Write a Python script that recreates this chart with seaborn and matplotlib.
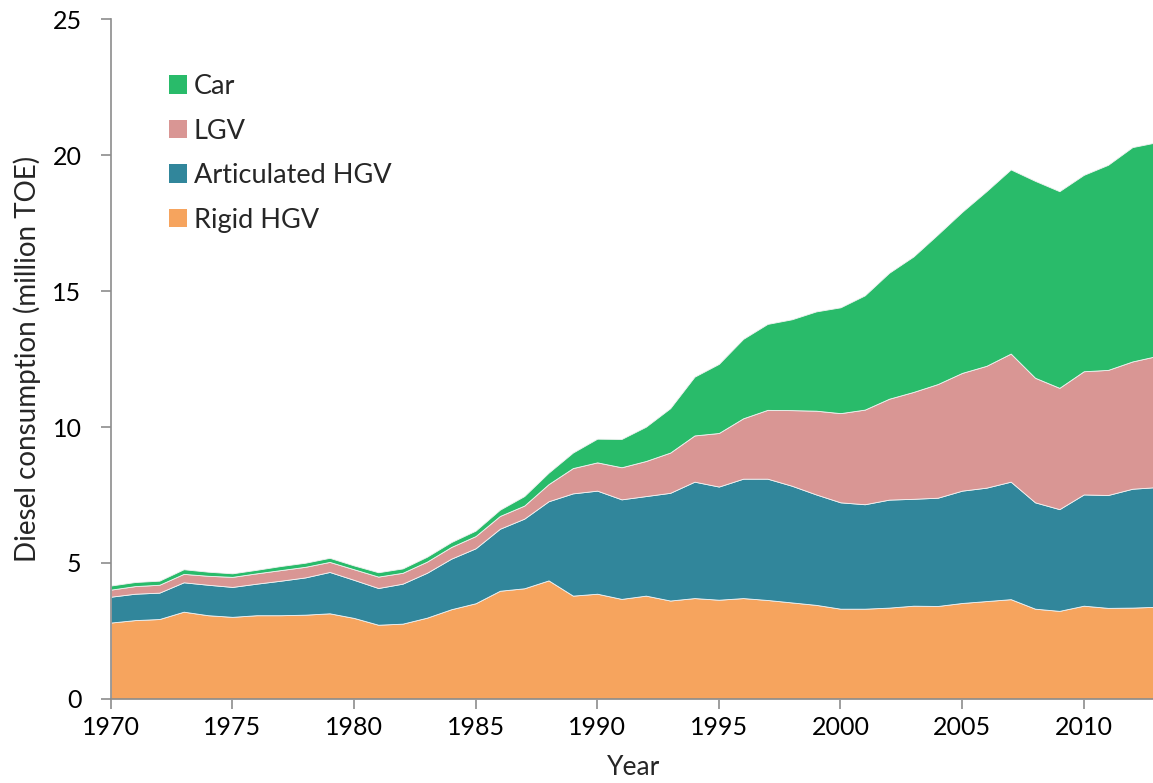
import numpy as np
import matplotlib
matplotlib.use("Agg")
import matplotlib.pyplot as plt
from matplotlib.patches import Patch
import seaborn as sns

years = list(range(1970, 2014))

rigid_hgv = [2.81, 2.90, 2.94, 3.21, 3.08, 3.02, 3.08, 3.08, 3.10, 3.15,
             2.98, 2.73, 2.77, 2.99, 3.30, 3.52, 3.98, 4.07, 4.36, 3.80,
             3.87, 3.68, 3.80, 3.62, 3.71, 3.65, 3.71, 3.64, 3.55, 3.46,
             3.32, 3.32, 3.36, 3.43, 3.42, 3.53, 3.60, 3.67, 3.32, 3.24,
             3.43, 3.35, 3.36, 3.39]
articulated_hgv = [0.95, 0.97, 0.97, 1.08, 1.12, 1.10, 1.16, 1.27, 1.37, 1.52,
                   1.40, 1.35, 1.47, 1.65, 1.86, 2.02, 2.28, 2.56, 2.91, 3.76,
                   3.79, 3.66, 3.66, 3.96, 4.28, 4.16, 4.39, 4.46, 4.29, 4.06,
                   3.91, 3.84, 3.97, 3.93, 3.98, 4.13, 4.17, 4.32, 3.91, 3.74,
                   4.09, 4.15, 4.37, 4.40]
lgv = [0.26, 0.28, 0.29, 0.31, 0.33, 0.37, 0.38, 0.39, 0.39, 0.37,
       0.39, 0.42, 0.40, 0.41, 0.43, 0.45, 0.47, 0.48, 0.63, 0.93,
       1.04, 1.18, 1.29, 1.48, 1.70, 1.97, 2.22, 2.53, 2.78, 3.08,
       3.28, 3.48, 3.71, 3.93, 4.18, 4.33, 4.48, 4.71, 4.58, 4.46,
       4.53, 4.60, 4.68, 4.82]
car = [0.15, 0.15, 0.15, 0.17, 0.15, 0.13, 0.13, 0.15, 0.15, 0.15,
       0.14, 0.16, 0.16, 0.18, 0.18, 0.20, 0.23, 0.35, 0.42, 0.57,
       0.87, 1.04, 1.26, 1.63, 2.16, 2.54, 2.92, 3.16, 3.34, 3.65,
       3.89, 4.20, 4.63, 4.98, 5.50, 5.92, 6.42, 6.77, 7.24, 7.23,
       7.22, 7.54, 7.88, 7.86]

series_names = ["Rigid HGV", "Articulated HGV", "LGV", "Car"]
colors = ["#F6A45E", "#31869B", "#D99694", "#29BB6A"]

x_ticks = [1970, 1975, 1980, 1985, 1990, 1995, 2000, 2005, 2010]
y_ticks = [0, 5, 10, 15, 20, 25]

sns.set_theme(style="white")
plt.rcParams['font.family'] = ['Lato', 'DejaVu Sans']

fig = plt.figure(figsize=(11.53, 7.83), dpi=100)
ax = fig.add_axes([0.096, 0.1073, 0.9072, 0.8684])

ax.stackplot(years, rigid_hgv, articulated_hgv, lgv, car,
             colors=colors, edgecolor="#f2f2f2", linewidth=0.6)

ax.set_xlim(1970, 2013)
ax.set_ylim(0, 25)
ax.set_xticks(x_ticks)
ax.set_yticks(y_ticks)

gray = "#8c8c8c"
for s in ["top", "right"]:
    ax.spines[s].set_visible(False)
for s in ["left", "bottom"]:
    ax.spines[s].set_color(gray)
    ax.spines[s].set_linewidth(1.2)
ax.tick_params(axis="both", which="both", direction="out", length=7,
               width=1.2, color=gray, labelsize=18, labelcolor="black",
               bottom=True, left=True)
ax.tick_params(axis="y", pad=14)
ax.tick_params(axis="x", pad=5)

ax.set_xlabel("Year", fontsize=19, labelpad=12)
ax.set_ylabel("Diesel consumption (million TOE)", fontsize=20, labelpad=8)

handles = [Patch(facecolor=c, edgecolor="none") for c in colors]
order = [3, 2, 1, 0]
leg = ax.legend([handles[i] for i in order], [series_names[i] for i in order],
                loc="upper left", bbox_to_anchor=(0.045, 0.935),
                frameon=False, fontsize=19.5, handlelength=0.68, handleheight=0.68,
                handletextpad=0.25, labelspacing=0.72, borderaxespad=0)

fig.savefig("out.png", dpi=100)
